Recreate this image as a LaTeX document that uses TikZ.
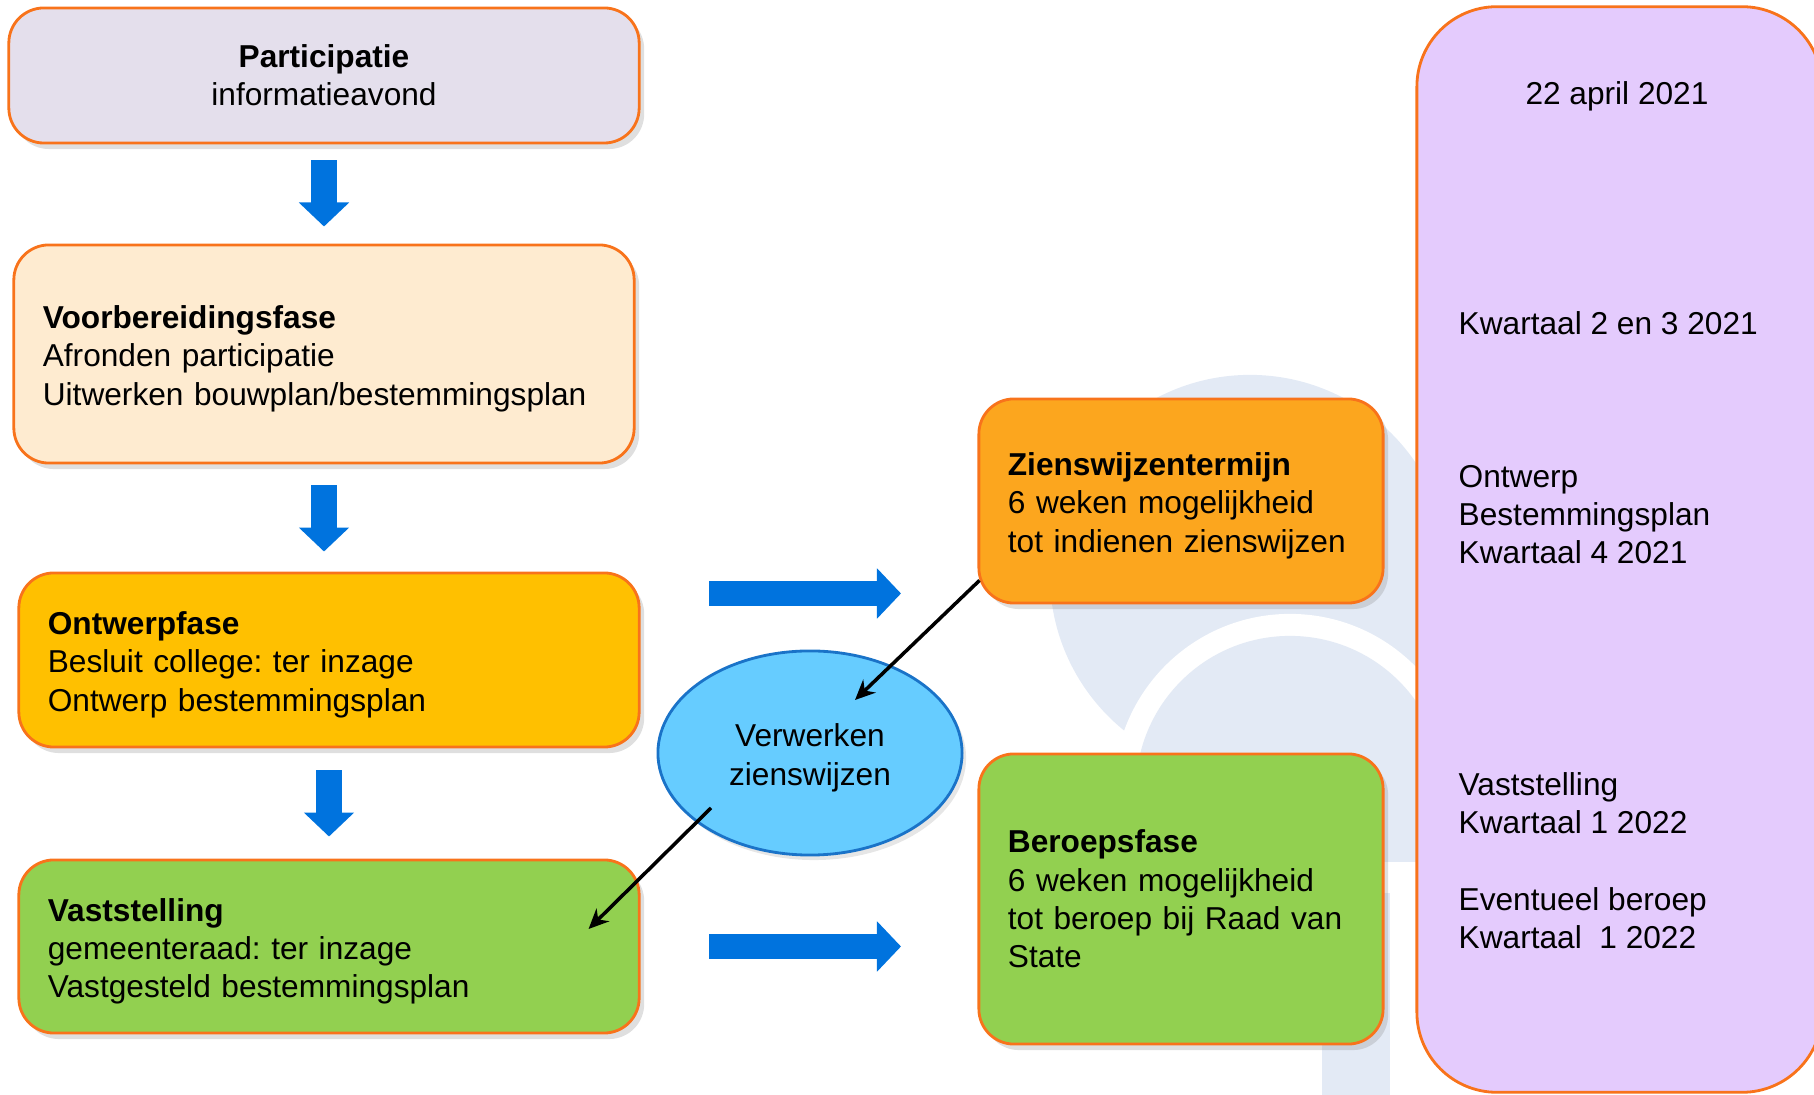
\documentclass[tikz,border=0pt]{standalone}
\usepackage{fontspec}
\setmainfont{Liberation Sans}
\usetikzlibrary{arrows.meta,calc,shapes.geometric,shadows}
\frenchspacing

\definecolor{randoranje}{HTML}{F8731B}
\definecolor{partkleur}{HTML}{E4DFEC}
\definecolor{voorbkleur}{HTML}{FEEBD0}
\definecolor{ontwerpkleur}{HTML}{FFC000}
\definecolor{zienkleur}{HTML}{FCA61E}
\definecolor{groenkleur}{HTML}{92D050}
\definecolor{ellipskleur}{HTML}{66CCFF}
\definecolor{ellipsrand}{HTML}{1A73C8}
\definecolor{paarskleur}{HTML}{E4CBFD}
\definecolor{pijlblauw}{HTML}{0073DE}
\definecolor{logokleur}{HTML}{E3EAF5}

\tikzset{
  tekst/.style={font=\fontsize{9}{10.9}\selectfont},
  verlaagd/.style={execute at begin node={\rule{0pt}{9.2pt}}},
  fase/.style={tekst, draw=randoranje, line width=0.8pt, rounded corners=0.35cm,
    align=left, inner xsep=0.29cm, inner ysep=0pt,
    drop shadow={opacity=0.25, shadow xshift=0.05cm, shadow yshift=-0.06cm}},
  blokpijl/.style={draw=pijlblauw, line width=0.25cm, -{Triangle[length=0.24cm,width=0.49cm]}},
  lijnpijl/.style={line width=1pt, -{Stealth[length=0.2cm,width=0.18cm]}},
  tijdtekst/.style={tekst, anchor=west, align=left, inner sep=0pt}
}

\begin{document}
\begin{tikzpicture}[x=0.01cm, y=-0.01cm]
        % Frame
        \clip (0,0) rectangle (1814,1095);

        % Background logo
        \fill[logokleur] (1250,575) circle (2cm);
        \fill[white] (1290,790) circle (1.76cm);
        \begin{scope}
          \clip (1000,500) rectangle (1500,862);
          \fill[logokleur] (1290,790) circle (1.54cm);
        \end{scope}
        \fill[logokleur] (1322,893) rectangle (1390,1095);

        % Timeline
        \node[draw=randoranje, fill=paarskleur, line width=0.8pt, rounded corners=0.8cm,
              minimum width=4.05cm, minimum height=10.85cm, inner sep=0pt] (tijd) at (1619.5,549.5) {};
        \node[tekst, inner sep=0pt] (datum) at (1617,96) {22 april 2021};
        \node[tijdtekst] (kw23) at (1458,323) {Kwartaal 2 en 3 2021};
        \node[tijdtekst] (kw4) at (1458,514.5) {Ontwerp\\Bestemmingsplan\\Kwartaal 4 2021};
        \node[tijdtekst] (kw1a) at (1458,803.5) {Vaststelling\\Kwartaal 1 2022};
        \node[tijdtekst] (kw1b) at (1458,918) {Eventueel beroep\\Kwartaal~~1 2022};

        % Phases
        \node[fase, fill=partkleur, align=center, text width=5.72cm, minimum height=1.35cm] (part) at (324,75.5)
          {\textbf{Participatie}\\informatieavond};
        \node[fase, verlaagd, fill=voorbkleur, text width=5.62cm, minimum height=2.18cm] (voorb) at (324,354)
          {\textbf{Voorbereidingsfase}\\Afronden participatie\\Uitwerken bouwplan/bestemmingsplan};
        \node[fase, verlaagd, fill=ontwerpkleur, text width=5.62cm, minimum height=1.74cm] (ontwerp) at (329,660)
          {\textbf{Ontwerpfase}\\Besluit college: ter inzage\\Ontwerp bestemmingsplan};
        \node[fase, verlaagd, fill=groenkleur, text width=5.62cm, minimum height=1.73cm] (vastst) at (329,946.5)
          {\textbf{Vaststelling}\\gemeenteraad: ter inzage\\Vastgesteld bestemmingsplan};
        \node[fase, verlaagd, fill=zienkleur, text width=3.46cm, minimum height=2.04cm] (zien) at (1181,501)
          {\textbf{Zienswijzentermijn}\\6 weken mogelijkheid\\tot indienen zienswijzen};
        \node[fase, fill=groenkleur, text width=3.46cm, minimum height=2.9cm] (beroep) at (1181,899)
          {\textbf{Beroepsfase}\\6 weken mogelijkheid\\tot beroep bij Raad van\\State};
        \node[tekst, verlaagd, ellipse, draw=ellipsrand, fill=ellipskleur, line width=0.8pt, align=center,
              text width=2cm, minimum width=3.04cm, minimum height=2.04cm, inner sep=0pt,
              drop shadow={opacity=0.2, shadow xshift=0.04cm, shadow yshift=-0.05cm}] (verw) at (810,753)
          {Verwerken\\zienswijzen};

        % Block arrows
        \coordinate (pijl1a) at (709,593.5);
        \coordinate (pijl1b) at (901,593.5);
        \coordinate (pijl2a) at (709,946.5);
        \coordinate (pijl2b) at (901,946.5);
        \draw[blokpijl, shorten <=0.16cm, shorten >=0.17cm] (part.south) -- (part.south |- voorb.north);
        \draw[blokpijl, shorten <=0.21cm, shorten >=0.2cm] (voorb.south) -- (voorb.south |- ontwerp.north);
        \draw[blokpijl, shorten <=0.22cm, shorten >=0.22cm] (ontwerp.south) -- (ontwerp.south |- vastst.north);
        \draw[blokpijl] (pijl1a) -- (pijl1b);
        \draw[blokpijl] (pijl2a) -- (pijl2b);

        % Line arrows
        \draw[lijnpijl] ($(zien.south west)+(2,-24)$) -- ($(verw.center)+(45,-53)$);
        \draw[lijnpijl] ($(verw.center)+(-99,55)$) -- ($(vastst.east)+(-52,-17.5)$);
\end{tikzpicture}
\end{document}
